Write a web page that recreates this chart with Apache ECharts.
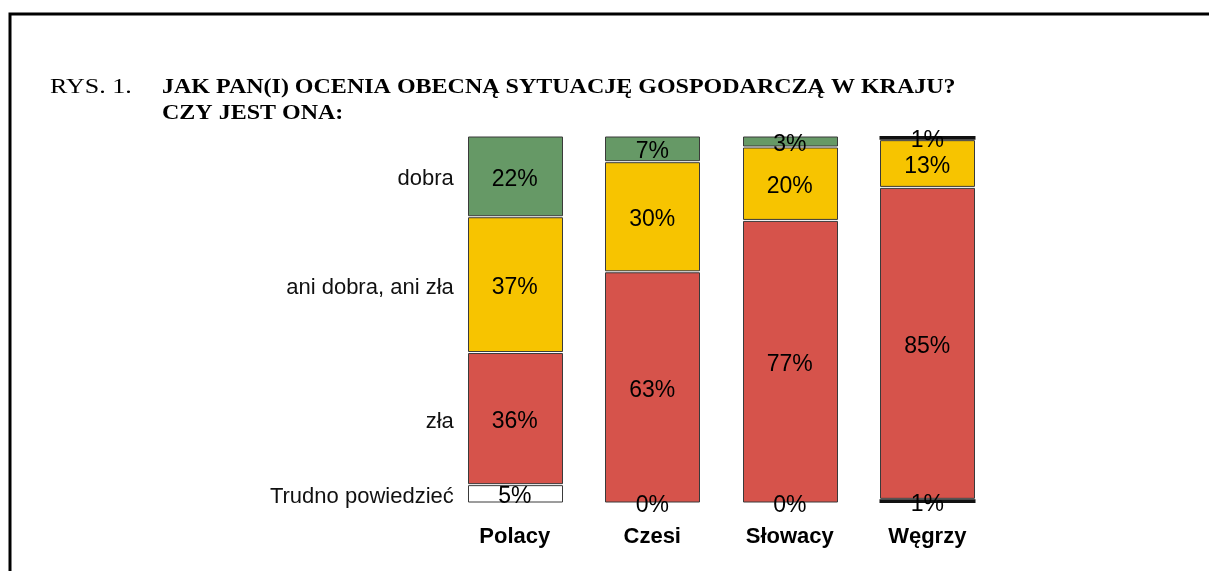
<!DOCTYPE html>
<html>
<head>
<meta charset="utf-8">
<script src="https://cdn.jsdelivr.net/npm/echarts@6/dist/echarts.min.js"></script>
<style>
  html, body { margin: 0; padding: 0; background: #fff; }
  #chart { width: 1209px; height: 571px; }
</style>
</head>
<body>
<div id="chart"></div>
<script>
// kraje i odpowiedzi (od dołu słupka do góry)
const countries = ["Polacy", "Czesi", "Słowacy", "Węgrzy"];
const answers = ["Trudno powiedzieć", "zła", "ani dobra, ani zła", "dobra"];
const trudno = [5, 0, 0, 1];
const zla = [36, 63, 77, 85];
const aniAni = [37, 30, 20, 13];
const dobra = [22, 7, 3, 1];
const colors = ["#ffffff", "#d6534b", "#f7c400", "#669966"];

const values = [trudno, zla, aniAni, dobra];
const FONT = "Arial, 'Liberation Sans', sans-serif";
const BAR_W = 94;

const chart = echarts.init(document.getElementById("chart"));

// prostokąty rysowane osobno, żeby zostawić białą szczelinę między segmentami
const rectSeries = values.map((vals, i) => ({
  name: "rect-" + i,
  type: "custom",
  silent: true,
  data: vals.map((v, j) => {
    let base = 0;
    for (let k = 0; k < i; k++) base += values[k][j];
    return [j, base, v];
  }),
  encode: { x: 0, y: 1 },
  renderItem: (params, api) => {
    const v = api.value(2);
    if (!v) return;
    const base = api.value(1);
    const p0 = api.coord([api.value(0), base]);
    const p1 = api.coord([api.value(0), base + v]);
    const h = p0[1] - p1[1] - 2;
    return {
      type: "rect",
      shape: {
        x: Math.round(p0[0] - BAR_W / 2) + 0.5,
        y: p1[1] + 1,
        width: BAR_W,
        height: Math.max(h, 0.5),
      },
      style: {
        fill: colors[i],
        stroke: h < 3 ? "#111" : "#3a3a3a",
        lineWidth: h < 3 ? 2 : 1,
      },
    };
  },
  z: 1,
}));

// przezroczyste słupki niosą etykiety z wartościami
const valueSeries = values.map((vals, i) => ({
  name: answers[i],
  type: "bar",
  stack: "total",
  barWidth: BAR_W,
  barGap: "-100%",
  silent: true,
  data: vals,
  itemStyle: { color: "rgba(0,0,0,0)" },
  label: {
    show: true,
    position: "inside",
    offset: [0, 3],
    formatter: "{c}%",
    color: "#000",
    fontFamily: FONT,
    fontSize: 23,
  },
  z: 3,
}));

// podpisy kategorii odpowiedzi z lewej strony (tylko przy pierwszym słupku)
const nameSeries = values.map((vals, i) => ({
  name: "podpis-" + i,
  type: "bar",
  stack: "names",
  barWidth: BAR_W,
  barGap: "-100%",
  silent: true,
  data: vals.map((v, j) => ({
    value: v,
    label: { show: j === 0 },
  })),
  itemStyle: { color: "rgba(0,0,0,0)" },
  label: {
    position: "left",
    distance: 14,
    offset: [0, 3],
    formatter: answers[i],
    color: "#111",
    fontFamily: FONT,
    fontSize: 22,
  },
  z: 2,
}));

chart.setOption({
  animation: false,
  grid: {
    left: 446,
    right: 213,
    top: 136,
    bottom: 68,
  },
  xAxis: {
    type: "category",
    data: countries,
    axisLine: { show: false },
    axisTick: { show: false },
    axisLabel: {
      margin: 23,
      color: "#000",
      fontWeight: "bold",
      fontFamily: FONT,
      fontSize: 22,
    },
  },
  yAxis: {
    type: "value",
    min: 0,
    max: 100,
    show: false,
    splitLine: { show: false },
  },
  graphic: [
    {
      type: "polyline",
      shape: { points: [[10, 571], [10, 14], [1209, 14]] },
      style: { stroke: "#000", lineWidth: 3, fill: null },
    },
    {
      type: "text",
      x: 50,
      y: 78,
      scaleX: 1.3,
      style: {
        text: "RYS. 1.",
        font: "20px 'Liberation Serif', 'Times New Roman', serif",
        fill: "#000",
        verticalAlign: "top",
      },
    },
    {
      type: "text",
      x: 162,
      y: 78,
      scaleX: 1.2,
      style: {
        text: "JAK PAN(I) OCENIA OBECNĄ SYTUACJĘ GOSPODARCZĄ W KRAJU?",
        font: "bold 20px 'Liberation Serif', 'Times New Roman', serif",
        fill: "#000",
        verticalAlign: "top",
      },
    },
    {
      type: "text",
      x: 162,
      y: 104,
      scaleX: 1.2,
      style: {
        text: "CZY JEST ONA:",
        font: "bold 20px 'Liberation Serif', 'Times New Roman', serif",
        fill: "#000",
        verticalAlign: "top",
      },
    },
  ],
  series: rectSeries.concat(valueSeries, nameSeries),
});
</script>
</body>
</html>
